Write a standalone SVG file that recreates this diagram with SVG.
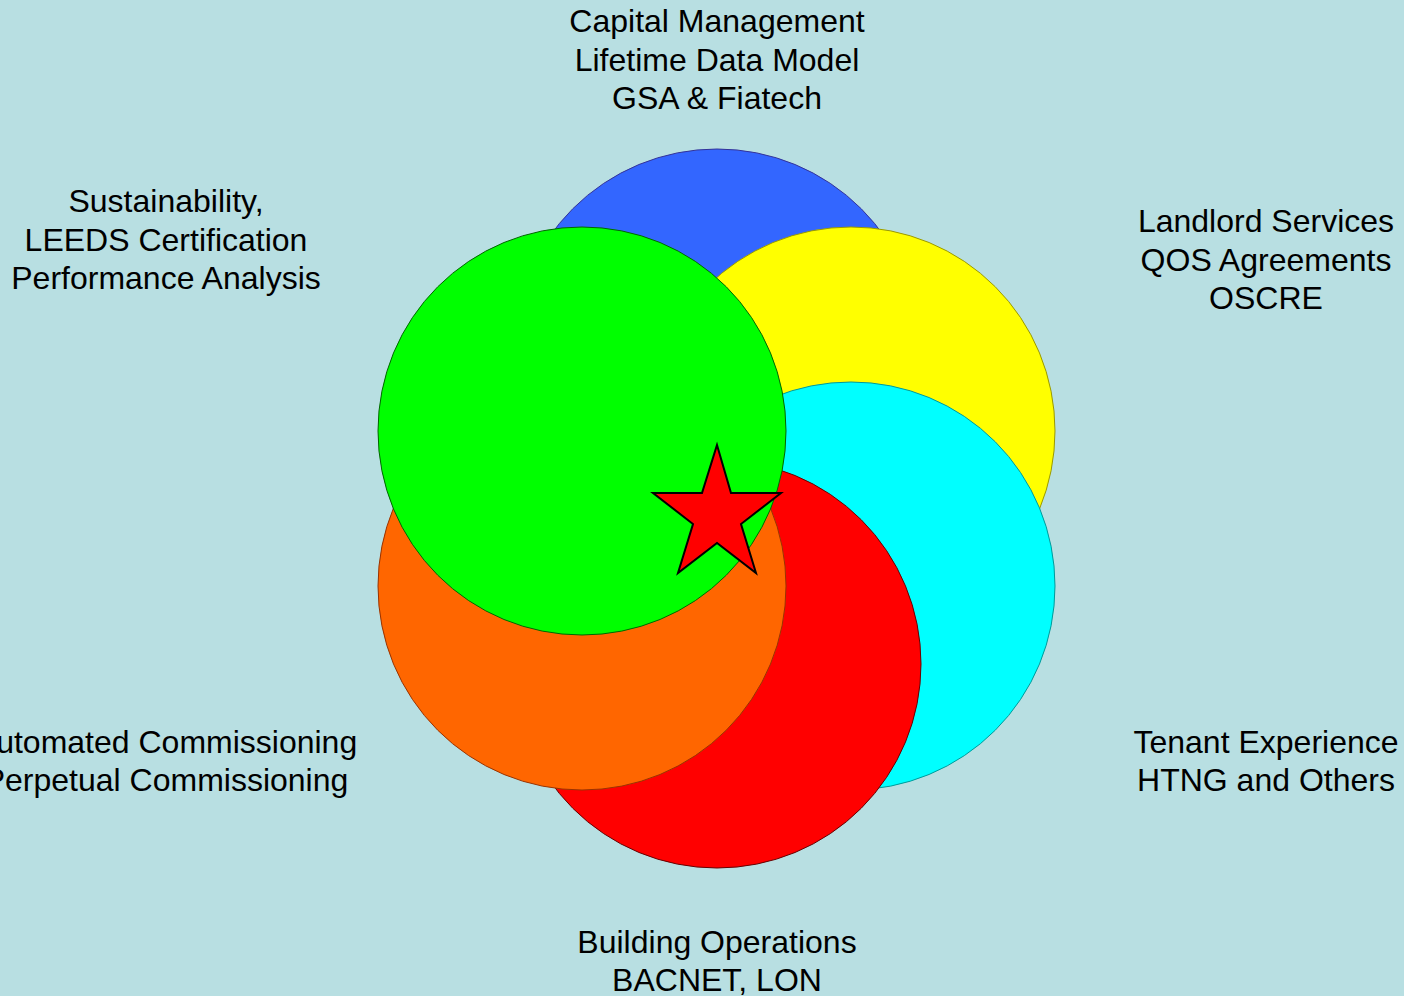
<svg xmlns="http://www.w3.org/2000/svg" width="1404" height="996" viewBox="0 0 1404 996">
<style>
text{font-family:"Liberation Sans",Arial,sans-serif;font-size:32px;fill:#000;text-anchor:middle}
circle{stroke-width:1}
</style>
<rect x="0" y="0" width="1404" height="996" fill="#B8DFE2"/>
<g id="circle-blue"><circle cx="717" cy="353" r="204" fill="#3366FF" stroke="#333399"/></g>
<g id="circle-yellow"><circle cx="851" cy="431" r="204" fill="#FFFF00" stroke="#999900"/></g>
<g id="circle-cyan"><circle cx="851" cy="586" r="204" fill="#00FFFF" stroke="#009999"/></g>
<g id="circle-red"><circle cx="717" cy="664" r="204" fill="#FF0000" stroke="#660000"/></g>
<g id="circle-orange"><circle cx="582" cy="586" r="204" fill="#FF6600" stroke="#993300"/></g>
<g id="circle-green"><circle cx="582" cy="431" r="204" fill="#00FF00" stroke="#006600"/></g>
<g id="star"><polygon points="717,445 731,493 781,493 741,524 756,573 717,543 678,573 693,524 653,493 702,493" fill="#FF0000" stroke="#000" stroke-width="2" stroke-linejoin="miter"/></g>
<g id="label-capital"><text x="717" y="32">Capital Management</text><text x="717" y="70.5">Lifetime Data Model</text><text x="717" y="109">GSA &amp; Fiatech</text></g>
<g id="label-sustainability"><text x="166" y="212">Sustainability,</text><text x="166" y="250.5">LEEDS Certification</text><text x="166" y="289">Performance Analysis</text></g>
<g id="label-landlord"><text x="1266" y="232">Landlord Services</text><text x="1266" y="270.5">QOS Agreements</text><text x="1266" y="309">OSCRE</text></g>
<g id="label-commissioning"><text x="166" y="753">Automated Commissioning</text><text x="166" y="791">Perpetual Commissioning</text></g>
<g id="label-tenant"><text x="1266" y="753">Tenant Experience</text><text x="1266" y="791">HTNG and Others</text></g>
<g id="label-building"><text x="717" y="953">Building Operations</text><text x="717" y="991">BACNET, LON</text></g>
</svg>
